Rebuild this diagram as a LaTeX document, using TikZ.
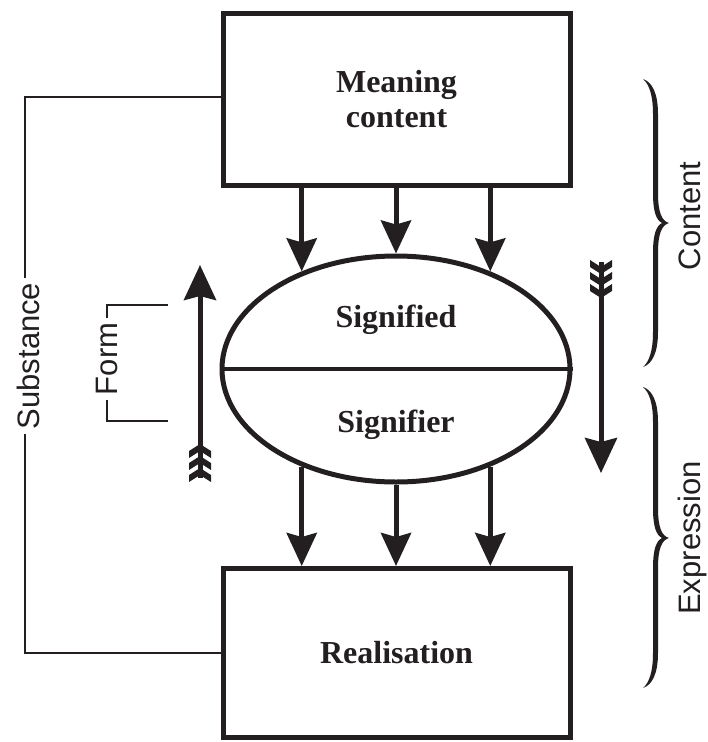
\documentclass[tikz,border=0pt]{standalone}
\usepackage{fontspec}
\setmainfont{Liberation Serif}
\newfontfamily\labelsans{Liberation Sans}
\usetikzlibrary{arrows.meta,shapes.geometric,calc}
\definecolor{ink}{HTML}{231F20}

% Filled curly brace opening to the left: top end, tip, bottom end (y values)
\newcommand\curlybrace[3]{%
  \fill[ink] (643,#1) .. controls (652,{#1+3}) and (658,{#1+14}) .. (658,{#1+35})
    -- (658,{#2-30}) .. controls (658,{#2-10}) and (662,{#2-2}) .. (669,#2)
    .. controls (662,{#2+2}) and (658,{#2+10}) .. (658,{#2+30})
    -- (658,{#3-35}) .. controls (658,{#3-14}) and (652,{#3-3}) .. (643,#3)
    .. controls (649,{#3-5}) and (653,{#3-16}) .. (653,{#3-35})
    -- (653,{#2+30}) .. controls (653,{#2+12}) and (656,{#2+3}) .. (662,#2)
    .. controls (656,{#2-3}) and (653,{#2-12}) .. (653,{#2-30})
    -- (653,{#1+35}) .. controls (653,{#1+16}) and (649,{#1+5}) .. (643,#1) -- cycle;}

\begin{document}
\begin{tikzpicture}[x=1pt,y=-1pt,
  box/.style={draw=ink, line width=5pt, minimum width=347pt, inner sep=0pt,
    outer sep=2.5pt, font=\fontsize{32}{35}\selectfont\bfseries, text=ink, align=center},
  inner/.style={font=\fontsize{32}{35}\selectfont\bfseries, text=ink, anchor=base},
  flow/.style={draw=ink, line width=5pt, -{Stealth[length=33pt,width=30pt,inset=4pt]}},
  longflow/.style={draw=ink, line width=5pt, -{Stealth[length=35pt,width=32pt,inset=4pt]}},
  bracketline/.style={draw=ink, line width=2.2pt},
  side/.style={font=\fontsize{31}{31}\selectfont\labelsans, text=ink, rotate=90, anchor=base},
  gapped/.style={side, fill=white, inner xsep=5pt, inner ysep=1pt},
  fletching/.pic={
    \foreach \k in {0,12,24}
      \fill[ink] (0,\k) -- (11,\k+7) -- (11,\k+14) -- (0,\k+7) -- (-11,\k+14) -- (-11,\k+7) -- cycle;
  }
]
\useasboundingbox (0,0) rectangle (708,742);

% boxes and the sign ellipse
\node[box, minimum height=172pt] (meaning) at (396.5,99.5) {Meaning\\content};
\node[box, minimum height=169pt] (real) at (396.5,653) {Realisation};
\node[draw=ink, line width=5pt, ellipse, minimum width=348pt, minimum height=226pt,
  inner sep=0pt, outer sep=2.5pt] (sig) at (396,369) {};
\draw[ink, line width=4pt] (sig.west) -- (sig.east);
\node[inner] (sd) at (396,327) {Signified};
\node[inner] (sr) at (396,432) {Signifier};

% vertical flows
\foreach \a in {134.7,90,46.6}
  \draw[flow] (meaning.south -| sig.\a) -- (sig.\a);
\foreach \a in {-134.7,-90,-46.6}
  \draw[flow] (sig.\a) -- (real.north -| sig.\a);

% feathered arrows beside the ellipse
\coordinate (upTail) at (200,478);
\coordinate (upHead) at (200,265);
\draw[longflow] (upTail) -- (upHead);
\pic at (200,444) {fletching};
\coordinate (dnTail) at (601,262);
\coordinate (dnHead) at (601,473);
\draw[longflow] (dnTail) -- (dnHead);
\pic[rotate=180] at (601,298) {fletching};

% substance bracket
\coordinate (subTop) at (25,97);
\coordinate (subBot) at (25,653);
\draw[bracketline] (meaning.west |- subTop) -- (subTop) -- (subBot) -- (real.west |- subBot);
\node[gapped] (subst) at (39,356) {Substance};

% form bracket
\coordinate (fTopEnd) at (168,305);
\coordinate (fTop) at (107,305);
\coordinate (fBot) at (107,421);
\coordinate (fBotEnd) at (168,421);
\draw[bracketline, line width=2pt] (fTopEnd) -- (fTop) -- (fBot) -- (fBotEnd);
\node[gapped] (form) at (117,359) {Form};

% content / expression braces
\curlybrace{79}{223}{367}
\curlybrace{387}{538}{688}
\node[side] (content) at (700,216) {Content};
\node[side] (expr) at (700,538) {Expression};
\end{tikzpicture}
\end{document}
